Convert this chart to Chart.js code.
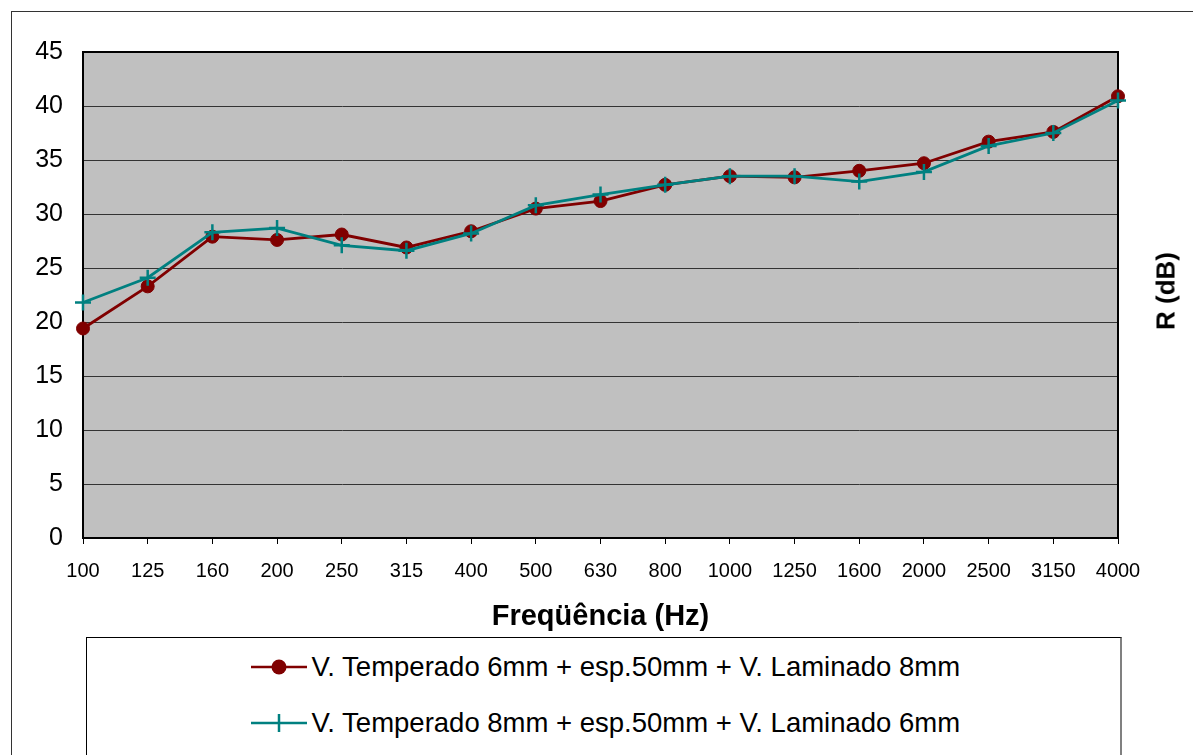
<!DOCTYPE html>
<html>
<head>
<meta charset="utf-8">
<script src="https://cdn.jsdelivr.net/npm/chart.js@4"></script>
<style>
  body { margin: 0; background: #fff; font-family: Arial, "Liberation Sans", sans-serif; }
  #page { position: relative; width: 1193px; height: 755px; overflow: hidden; }
  #frame { position: absolute; left: 11px; top: 11px; width: 1300px; height: 900px; border: 1px solid #333; }
  #wrap { position: absolute; left: 0; top: 0; width: 1193px; height: 637px; }
  #ytitle { position: absolute; left: 1166px; top: 291px; transform: translate(-50%, -50%) rotate(-90deg);
            font-weight: bold; font-size: 26px; white-space: nowrap; }
  #legend { position: absolute; left: 86px; top: 637px; width: 1036px; height: 130px; box-sizing: border-box;
            border: 1px solid #000; border-right: 2px solid #808080; background: #fff;
            display: flex; flex-direction: column; align-items: center; padding-top: 1px; }
  .item { display: flex; align-items: center; height: 56px; font-size: 27.5px; width: 706px; white-space: nowrap; }
  .item svg { margin-right: 5px; flex: none; }
</style>
</head>
<body>
<div id="page">
  <div id="frame"></div>
  <div id="wrap"><canvas id="chart"></canvas></div>
  <div id="ytitle">R (dB)</div>
  <div id="legend"></div>
</div>
<script>
// dados
const frequencias = ['100', '125', '160', '200', '250', '315', '400', '500', '630', '800',
                     '1000', '1250', '1600', '2000', '2500', '3150', '4000'];
const serie6_8 = [19.4, 23.3, 27.9, 27.6, 28.1, 26.9, 28.4, 30.5, 31.2, 32.7,
                  33.5, 33.4, 34.0, 34.7, 36.7, 37.6, 40.9];
const serie8_6 = [21.8, 24.1, 28.3, 28.7, 27.1, 26.6, 28.2, 30.8, 31.8, 32.7,
                  33.5, 33.5, 33.0, 33.9, 36.3, 37.5, 40.5];
const nomes = ['V. Temperado 6mm + esp.50mm + V. Laminado 8mm',
               'V. Temperado 8mm + esp.50mm + V. Laminado 6mm'];
const yMin = 0, yMax = 45, yStep = 5;

const fonte = 'Arial, "Liberation Sans", sans-serif';

// fundo cinza e moldura da área do gráfico
const plotArea = {
  id: 'plotArea',
  beforeDraw(chart) {
    const { ctx, chartArea: a } = chart;
    ctx.save();
    ctx.fillStyle = '#C0C0C0';
    ctx.fillRect(a.left, a.top, a.right - a.left, a.bottom - a.top);
    ctx.restore();
  },
  beforeDatasetsDraw(chart) {
    const { ctx, chartArea: a } = chart;
    ctx.save();
    ctx.strokeStyle = '#000';
    ctx.lineWidth = 2;
    ctx.strokeRect(a.left, a.top, a.right - a.left, a.bottom - a.top);
    ctx.restore();
  }
};

document.addEventListener('DOMContentLoaded', function() {
  const ctx = document.getElementById('chart');
  new Chart(ctx, {
    type: 'line',
    data: {
      labels: frequencias,
      datasets: [{
        label: nomes[0],
        data: serie6_8,
        borderColor: '#800000',
        backgroundColor: '#800000',
        borderWidth: 2.8,
        pointStyle: 'circle',
        pointRadius: 6.5,
        pointBorderWidth: 1,
        tension: 0,
        clip: false,
        order: 2
      }, {
        label: nomes[1],
        data: serie8_6,
        borderColor: '#008080',
        backgroundColor: '#008080',
        borderWidth: 2.8,
        pointStyle: 'cross',
        pointRadius: 8,
        pointBorderWidth: 2.5,
        tension: 0,
        clip: false,
        order: 1
      }]
    },
    options: {
      responsive: true,
      maintainAspectRatio: false,
      animation: false,
      layout: { padding: { top: 52, right: 75, left: 0, bottom: 0 } },
      plugins: { legend: { display: false }, tooltip: { enabled: false } },
      scales: {
        x: {
          offset: false,
          afterFit(scale) { scale.height = 99; },
          grid: { drawOnChartArea: false, drawTicks: true, tickLength: 6, color: '#000', lineWidth: 1 },
          border: { display: true, color: '#000', width: 2 },
          ticks: { color: '#000', font: { family: fonte, size: 20 }, padding: 15, maxRotation: 0, autoSkip: false },
          title: { display: true, text: 'Freqüência (Hz)', color: '#000',
                   font: { family: fonte, size: 29, weight: 'bold' }, padding: { top: 0, bottom: 3 } }
        },
        y: {
          min: yMin,
          max: yMax,
          afterFit(scale) { scale.width = 83; },
          grid: { drawTicks: false, color: '#333', lineWidth: 1 },
          border: { display: true, color: '#000', width: 2 },
          ticks: { stepSize: yStep, color: '#000', font: { family: fonte, size: 25 }, padding: 20 }
        }
      }
    },
    plugins: [plotArea]
  });

  // legenda em HTML
  const legenda = document.getElementById('legend');
  const simbolos = [
    '<svg width="56" height="20"><line x1="0" y1="10" x2="56" y2="10" stroke="#800000" stroke-width="2.5"/>' +
      '<circle cx="28" cy="10" r="7.5" fill="#800000"/></svg>',
    '<svg width="56" height="20"><line x1="0" y1="10" x2="56" y2="10" stroke="#008080" stroke-width="2.5"/>' +
      '<line x1="28" y1="1" x2="28" y2="19" stroke="#008080" stroke-width="2.5"/></svg>'
  ];
  nomes.forEach(function(n, i) {
    const d = document.createElement('div');
    d.className = 'item';
    d.innerHTML = simbolos[i] + '<span>' + n + '</span>';
    legenda.appendChild(d);
  });
});
</script>
</body>
</html>
